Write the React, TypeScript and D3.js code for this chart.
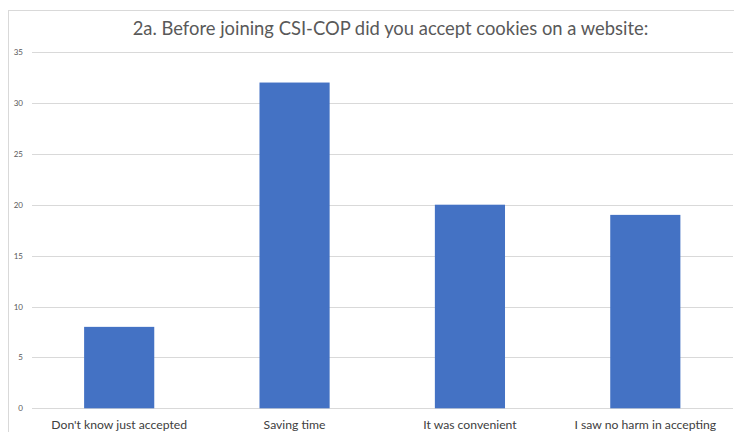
import React from "react";
import * as d3 from "d3";

const categories = ["Don't know just accepted", "Saving time", "It was convenient", "I saw no harm in accepting"];
const values = [8, 32, 20, 19];
const yTicks = [0, 5, 10, 15, 20, 25, 30, 35];
const title = "2a. Before joining CSI-COP did you accept cookies on a website:";

export default function App() {
  const W = 734, H = 432;
  const x = d3.scaleBand<string>().domain(categories).range([31.5, 733]).paddingInner(0.6).paddingOuter(0.3);
  const y = d3.scaleLinear().domain([0, 35]).range([408.3, 52]);
  const font = "Lato, 'Open Sans', sans-serif";
  return (
    <svg width={W} height={H} style={{ position: "absolute", left: 0, top: 0, background: "#fff" }}>
      <rect x={8.5} y={10.5} width={W} height={H} fill="#fff" stroke="#d9d9d9" strokeWidth={1} />
      <text x={390.5} y={35} textAnchor="middle" fontFamily={font} fontSize={18.4} fill="#595959">{title}</text>
      {yTicks.map((t) => (
        <g key={t}>
          <line x1={32} x2={733} y1={Math.round(y(t)) + 0.5} y2={Math.round(y(t)) + 0.5} stroke="#d9d9d9" strokeWidth={1} />
          <text x={23} y={y(t) + 3} textAnchor="end" fontFamily={font} fontSize={8} fill="#595959">{t}</text>
        </g>
      ))}
      {categories.map((c, i) => (
        <g key={c}>
          <rect x={x(c)} y={y(values[i])} width={x.bandwidth()} height={y(0) - y(values[i])} fill="#4472C4" />
          <text x={(x(c) as number) + x.bandwidth() / 2} y={429} textAnchor="middle" fontFamily={font} fontSize={12.2} fill="#404040">{c}</text>
        </g>
      ))}
    </svg>
  );
}
